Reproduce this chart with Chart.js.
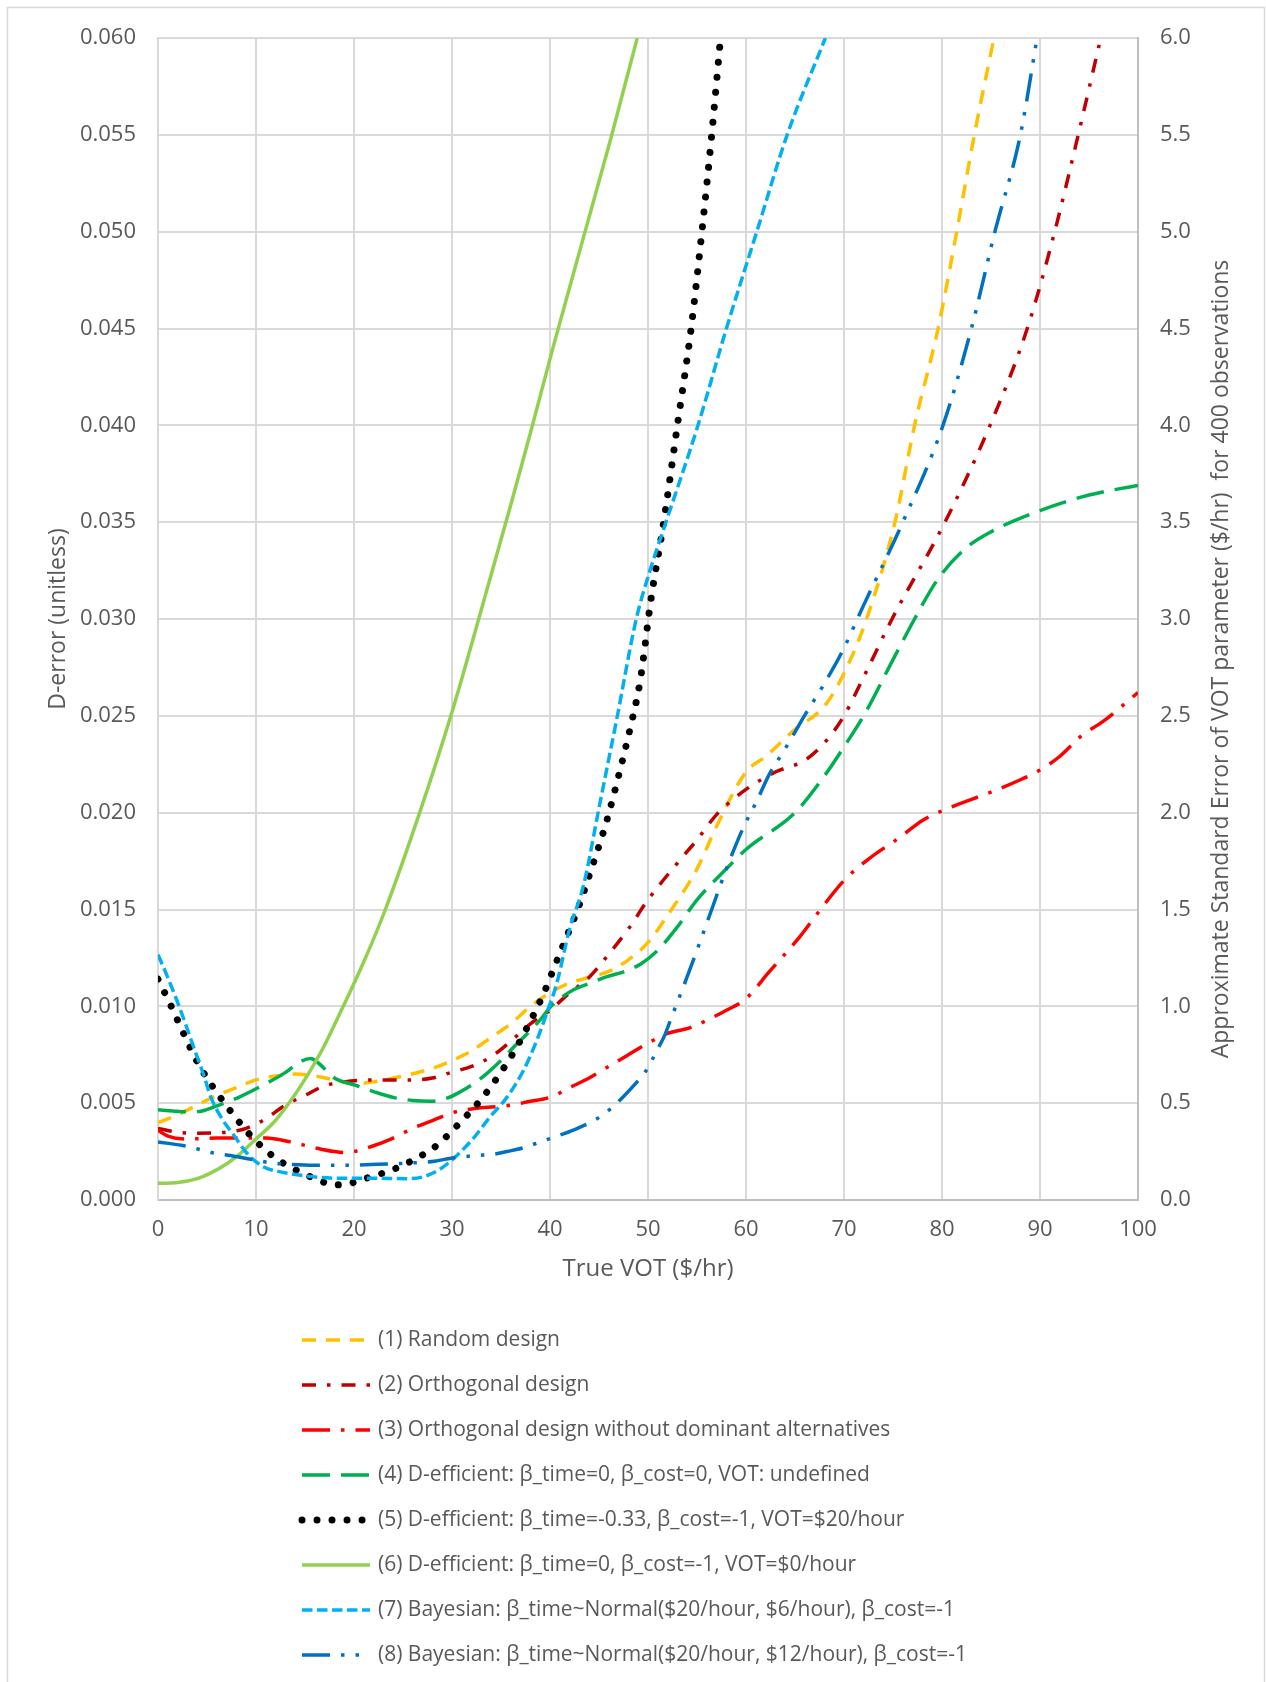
<!DOCTYPE html>
<html>
<head>
<meta charset="utf-8">
<script src="https://cdn.jsdelivr.net/npm/chart.js@4.4.1/dist/chart.umd.min.js"></script>
<style>
  html, body { margin: 0; padding: 0; background: #fff; }
  canvas { display: block; }
</style>
</head>
<body>
<canvas id="chart" width="1266" height="1682"></canvas>
<script>
// legend labels, in series order
const seriesNames = [
  '(1) Random design',
  '(2) Orthogonal design',
  '(3) Orthogonal design without dominant alternatives',
  '(4) D-efficient: β_time=0, β_cost=0, VOT: undefined',
  '(5) D-efficient: β_time=-0.33, β_cost=-1, VOT=$20/hour',
  '(6) D-efficient: β_time=0, β_cost=-1, VOT=$0/hour',
  '(7) Bayesian: β_time~Normal($20/hour, $6/hour), β_cost=-1',
  '(8) Bayesian: β_time~Normal($20/hour, $12/hour), β_cost=-1'
];
const rightTitle = 'Approximate Standard Error of VOT parameter ($/hr)  for 400 observations';

// (1) Random design
const randomVot = [0, 2, 4, 6, 8, 10, 12, 14, 16, 18, 20, 22, 25, 28, 30, 32, 34, 36, 38, 40, 42, 44, 46, 48, 50, 52, 55, 57, 60, 62, 65, 68, 70, 72.3, 75.2, 77.2, 79.6, 81.5, 83.3, 85.3];
const randomErr = [0.0040, 0.0044, 0.0049, 0.0054, 0.0058, 0.0062, 0.0064, 0.0065, 0.0064, 0.0062, 0.0060, 0.0061, 0.0064, 0.0068, 0.0072, 0.0077, 0.0084, 0.0091, 0.0100, 0.0107, 0.0112, 0.0115, 0.0118, 0.0124, 0.0133, 0.0147, 0.0171, 0.0193, 0.0221, 0.0229, 0.0243, 0.0255, 0.0272, 0.0300, 0.0350, 0.0400, 0.0450, 0.0500, 0.0550, 0.0600];

// (2) Orthogonal design
const orthoVot = [0, 2, 4, 7, 9, 11, 13, 15, 17, 19, 22, 26, 28, 30, 32, 34, 36, 38, 40, 42, 44, 46, 48, 50, 53, 55, 57, 60, 63, 66, 68, 70, 72, 74.9, 80.3, 84.9, 88.7, 91.5, 93.9, 96.2];
const orthoErr = [0.0037, 0.0035, 0.00345, 0.0035, 0.0037, 0.0042, 0.0049, 0.0054, 0.0059, 0.0061, 0.0062, 0.0062, 0.0063, 0.0066, 0.0069, 0.0074, 0.0082, 0.0091, 0.0098, 0.0107, 0.0115, 0.0127, 0.0140, 0.0155, 0.0174, 0.0186, 0.0199, 0.0212, 0.0221, 0.0227, 0.0236, 0.0250, 0.0270, 0.0300, 0.0350, 0.0400, 0.0450, 0.0500, 0.0550, 0.0600];

// (3) Orthogonal design without dominant alternatives
const orthoNdVot = [0, 1, 3, 6, 9, 11, 13.5, 16, 18, 19, 20, 22, 24, 26, 28, 30, 32, 34, 36, 38, 40, 42, 44, 46, 48, 50, 52, 54.3, 58, 60, 62.4, 65.5, 67.3, 70, 72.5, 75.9, 78, 81, 85.2, 88, 90, 92, 94.3, 96.4, 100];
const orthoNdErr = [0.0036, 0.0033, 0.00315, 0.0032, 0.0032, 0.0032, 0.0030, 0.0027, 0.0025, 0.00245, 0.0025, 0.0028, 0.0032, 0.0037, 0.0041, 0.0045, 0.0047, 0.0048, 0.0049, 0.0051, 0.0053, 0.0058, 0.0063, 0.0069, 0.0075, 0.0081, 0.0086, 0.0089, 0.0098, 0.0104, 0.0118, 0.0136, 0.0148, 0.0165, 0.0176, 0.0188, 0.0196, 0.0203, 0.0211, 0.0217, 0.0222, 0.0229, 0.0240, 0.0247, 0.0262];

// (4) D-efficient, VOT undefined
const deffUndefVot = [0, 1.5, 3, 4.5, 6, 8.4, 10.8, 12.9, 14.6, 15.6, 16.3, 18, 20, 22, 24, 26, 27.8, 29.5, 30.9, 32.2, 33.6, 35, 36.3, 37.7, 39, 40.1, 41.1, 42.4, 44.1, 45.9, 47.6, 49.3, 51, 53, 55, 58, 60, 65, 68, 70, 72, 75, 77.2, 79.5, 82.3, 85, 90, 95, 100];
const deffUndefErr = [0.00466, 0.0046, 0.00455, 0.0046, 0.00486, 0.00534, 0.00595, 0.00655, 0.00716, 0.0073, 0.0071, 0.0063, 0.00595, 0.0056, 0.0053, 0.00514, 0.0051, 0.00526, 0.0056, 0.0060, 0.00655, 0.0072, 0.0079, 0.0086, 0.0093, 0.0100, 0.01043, 0.01086, 0.0112, 0.01155, 0.0118, 0.0122, 0.0129, 0.0141, 0.0155, 0.0171, 0.0181, 0.0200, 0.0219, 0.0234, 0.0250, 0.0279, 0.0300, 0.0320, 0.0336, 0.0345, 0.0356, 0.0364, 0.0369];

// (5) D-efficient, VOT=$20/hour
const deff20Vot = [0, 1.4, 2.7, 4.15, 5.85, 7.76, 9.8, 12.2, 15, 16.5, 18, 19.6, 21.1, 24.1, 27, 28.3, 29.5, 30.6, 32.8, 34.7, 36.4, 37.9, 39.3, 40.5, 41.7, 42.9, 43.9, 45.8, 47.1, 48.2, 49.2, 50.3, 51.6, 53, 54.4, 55.5, 56.5, 57.4];
const deff20Err = [0.0114, 0.00995, 0.0085, 0.0070, 0.00566, 0.00436, 0.00314, 0.00209, 0.00133, 0.0010, 0.00078, 0.00086, 0.0011, 0.0016, 0.00233, 0.00276, 0.00331, 0.00388, 0.00509, 0.00638, 0.00772, 0.00914, 0.0106, 0.0121, 0.0136, 0.0151, 0.0166, 0.0196, 0.0221, 0.0244, 0.0268, 0.0310, 0.0350, 0.0400, 0.0450, 0.0500, 0.0550, 0.0600];

// (6) D-efficient, VOT=$0/hour
const deff0Vot = [0, 2, 4, 5.4, 7.1, 8.4, 10.1, 11.8, 13.5, 15.2, 16.9, 18.9, 21, 23.2, 26.7, 30, 32, 34, 36, 38, 40.3, 43.3, 46.2, 48.9];
const deff0Err = [0.00086, 0.0009, 0.0011, 0.0014, 0.0019, 0.0024, 0.0032, 0.0040, 0.0051, 0.0064, 0.0079, 0.0100, 0.0123, 0.0150, 0.0200, 0.0252, 0.0287, 0.0323, 0.0359, 0.0396, 0.0440, 0.0495, 0.0548, 0.0600];

// (7) Bayesian, sd $6/hour
const bayes6Vot = [0, 0.95, 1.9, 2.8, 3.7, 4.7, 5.4, 6.4, 7.8, 9.1, 10.8, 12.5, 14.2, 16.6, 18.6, 22, 25.4, 27.1, 28.8, 30.5, 32.2, 33.9, 35.6, 37.3, 38.7, 39.7, 40.7, 42, 43.4, 45.1, 46.8, 48.8, 50.2, 51.7, 55.1, 58, 61.1, 64.2, 68.1];
const bayes6Err = [0.01267, 0.01155, 0.01034, 0.0091, 0.0078, 0.0064, 0.0053, 0.0043, 0.0033, 0.0024, 0.0017, 0.00145, 0.0013, 0.00116, 0.00112, 0.00112, 0.0011, 0.0012, 0.0016, 0.0023, 0.0032, 0.0043, 0.0053, 0.0067, 0.0083, 0.0097, 0.0112, 0.0140, 0.0162, 0.0205, 0.0248, 0.0300, 0.0325, 0.0348, 0.0400, 0.0450, 0.0500, 0.0550, 0.0600];

// (8) Bayesian, sd $12/hour
const bayes12Vot = [0, 2.65, 4.35, 5.9, 7.4, 9.5, 11.8, 13.5, 15.9, 19.2, 22.4, 25.4, 28.2, 29.9, 32.6, 34.1, 35.6, 37.3, 39, 41.3, 42.8, 44.8, 46.4, 47.6, 48.7, 49.7, 51, 51.7, 52.3, 53.9, 55, 56.5, 58, 59.7, 61.1, 62.4, 64, 66.2, 67.8, 69.9, 71.9, 76, 80.1, 83, 85.4, 88, 89.7];
const bayes12Err = [0.0030, 0.0028, 0.0026, 0.0024, 0.0023, 0.0021, 0.0019, 0.00184, 0.0018, 0.0018, 0.00184, 0.0019, 0.0020, 0.00216, 0.0023, 0.00235, 0.0025, 0.0027, 0.0030, 0.0034, 0.0037, 0.0042, 0.0048, 0.0054, 0.0060, 0.0066, 0.0078, 0.0085, 0.0093, 0.0114, 0.0129, 0.0150, 0.0171, 0.0192, 0.0206, 0.0220, 0.0233, 0.0252, 0.0265, 0.0284, 0.0306, 0.0350, 0.0400, 0.0450, 0.0500, 0.0550, 0.0600];

const FONT = "'Open Sans', sans-serif";
const GREY = '#595959';

function pts(xs, ys) {
  return xs.map((x, i) => ({ x: x, y: ys[i] }));
}

function line(i, data, color, dash, width, cap) {
  return {
    label: seriesNames[i],
    data: data,
    borderColor: color,
    backgroundColor: color,
    borderWidth: width || 3.5,
    borderDash: dash,
    borderCapStyle: cap || 'butt',
    borderJoinStyle: 'round',
    pointRadius: 0,
    fill: false,
    cubicInterpolationMode: 'monotone',
    order: 8 - i
  };
}

// white page, thin grey frame
const frame = {
  id: 'frame',
  beforeDraw(chart) {
    const ctx = chart.ctx;
    ctx.save();
    ctx.fillStyle = '#fff';
    ctx.fillRect(0, 0, chart.width, chart.height);
    ctx.strokeStyle = '#d9d9d9';
    ctx.lineWidth = 1.5;
    ctx.strokeRect(7.5, 7.5, chart.width - 9, chart.height + 20);
    ctx.restore();
  }
};

// secondary axis title reads bottom-to-top, like Excel
const rightAxisTitle = {
  id: 'rightAxisTitle',
  afterDraw(chart) {
    const ctx = chart.ctx;
    ctx.save();
    ctx.translate(1221, 659);
    ctx.rotate(-Math.PI / 2);
    ctx.fillStyle = GREY;
    ctx.font = '23px ' + FONT;
    ctx.textAlign = 'center';
    ctx.textBaseline = 'middle';
    ctx.fillText(rightTitle, 0, 0);
    ctx.restore();
  }
};

// one legend entry per row under the plot
const legendRows = {
  id: 'legendRows',
  afterDraw(chart) {
    const ctx = chart.ctx;
    const top = chart.chartArea.bottom + 140;
    ctx.save();
    chart.data.datasets.forEach((ds, i) => {
      const y = top + i * 45;
      ctx.beginPath();
      ctx.strokeStyle = ds.borderColor;
      ctx.lineWidth = ds.borderWidth;
      ctx.lineCap = ds.borderCapStyle;
      ctx.setLineDash(ds.borderDash || []);
      ctx.moveTo(302, y);
      ctx.lineTo(370, y);
      ctx.stroke();
      ctx.setLineDash([]);
      ctx.fillStyle = GREY;
      ctx.font = '21px ' + FONT;
      ctx.textBaseline = 'middle';
      ctx.textAlign = 'left';
      ctx.fillText(ds.label, 378, y);
    });
    ctx.restore();
  }
};

const ctx = document.getElementById('chart').getContext('2d');
const chart = new Chart(ctx, {
  type: 'line',
  data: {
    datasets: [
      line(0, pts(randomVot, randomErr), '#FFC000', [14, 10]),
      line(1, pts(orthoVot, orthoErr), '#C00000', [14, 11, 3.5, 11]),
      line(2, pts(orthoNdVot, orthoNdErr), '#FF0000', [28, 11, 3.5, 11]),
      line(3, pts(deffUndefVot, deffUndefErr), '#00B050', [28, 11]),
      line(4, pts(deff20Vot, deff20Err), '#000000', [0.01, 15], 7, 'round'),
      line(5, pts(deff0Vot, deff0Err), '#92D050', []),
      line(6, pts(bayes6Vot, bayes6Err), '#00B0F0', [10.5, 4.5]),
      line(7, pts(bayes12Vot, bayes12Err), '#0070C0', [28, 11, 3.5, 11, 3.5, 11])
    ]
  },
  options: {
    responsive: false,
    devicePixelRatio: 1,
    animation: false,
    layout: { padding: { top: 38, right: 0, bottom: 395, left: 0 } },
    plugins: {
      legend: { display: false },
      tooltip: { enabled: false }
    },
    scales: {
      x: {
        type: 'linear',
        position: 'bottom',
        min: 0,
        max: 100,
        ticks: { stepSize: 10, color: GREY, font: { family: FONT, size: 22 }, padding: 17 },
        grid: { color: '#d9d9d9', lineWidth: 2, drawTicks: false },
        border: { color: '#bfbfbf', width: 2 },
        title: {
          display: true,
          text: 'True VOT ($/hr)',
          color: GREY,
          font: { family: FONT, size: 24 },
          padding: { top: 0, bottom: 3 }
        },
        afterFit: s => { s.height = 87; }
      },
      y: {
        position: 'left',
        min: 0,
        max: 0.06,
        ticks: {
          stepSize: 0.005,
          color: GREY,
          font: { family: FONT, size: 22 },
          padding: 22,
          callback: v => v.toFixed(3)
        },
        grid: { color: '#d9d9d9', lineWidth: 2, drawTicks: false },
        border: { color: '#d9d9d9', width: 2 },
        title: {
          display: true,
          text: 'D-error (unitless)',
          color: GREY,
          font: { family: FONT, size: 23 },
          padding: { top: 45, bottom: 0 }
        },
        afterFit: s => { s.width = 158; }
      },
      y2: {
        position: 'right',
        min: 0,
        max: 6,
        ticks: {
          stepSize: 0.5,
          color: GREY,
          font: { family: FONT, size: 22 },
          padding: 22,
          callback: v => v.toFixed(1)
        },
        grid: { display: false, drawTicks: false },
        border: { color: '#bfbfbf', width: 2 },
        afterFit: s => { s.width = 128; }
      }
    }
  },
  plugins: [frame, rightAxisTitle, legendRows]
});
</script>
</body>
</html>
